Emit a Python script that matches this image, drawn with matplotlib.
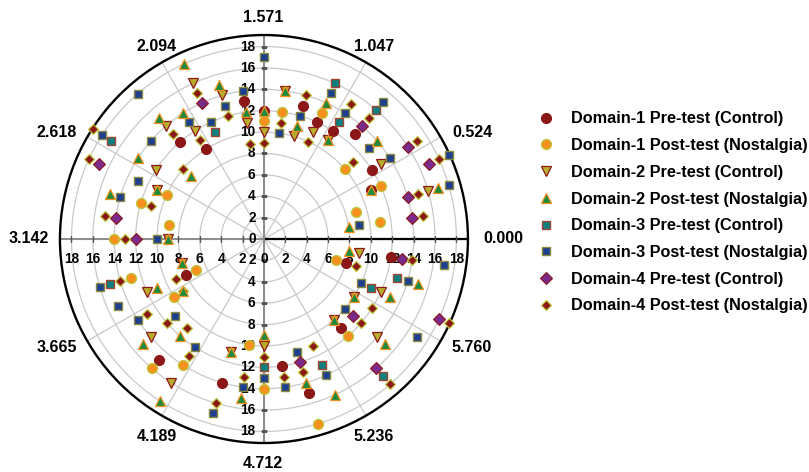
import numpy as np
import matplotlib
matplotlib.use("Agg")
import matplotlib.pyplot as plt
from matplotlib.lines import Line2D

plt.rcParams['font.family'] = ['Liberation Sans', 'DejaVu Sans']

# ---------------- data (angle index k -> theta = k * 2*pi/44, value r) ----------------
N_ANGLES = 44

d1_pre_k = [11, 12, 15, 16, 9, 8, 7, 6, 4, 3, 25, 28, 31, 34, 35, 38, 42, 43]
d1_pre_r = [12, 13, 10, 12, 13, 12, 12, 13, 12, 11, 8, 15, 14, 12, 15, 11, 8, 12]

d1_post_k = [11, 10, 8, 5, 3, 2, 1, 19, 20, 21, 22, 24, 25, 26, 28, 29, 32, 33, 35, 38, 42]
d1_post_r = [11, 12, 13, 10, 12, 9, 11, 10, 12, 9, 14, 13, 7, 10, 16, 14, 10, 14, 18, 12, 7]

d2_pre_k = [11, 12, 13, 14, 15, 16, 18, 19, 22, 10, 9, 8, 7, 4, 2, 24, 25, 27, 29, 31, 33, 38, 39, 40, 41, 43]
d2_pre_r = [10, 11, 14, 16, 12, 14, 12, 11, 9, 14, 10, 11, 11, 13, 16, 8, 12, 14, 16, 11, 10, 10, 14, 10, 12, 9]

d2_post_k = [11, 12, 13, 14, 15, 16, 17, 18, 19, 20, 22, 10, 9, 8, 7, 5, 3, 2, 1,
             24, 25, 26, 27, 28, 29, 31, 32, 33, 35, 36, 38, 39, 40, 41, 42, 43]
d2_post_r = [12, 12, 15, 18, 14, 15, 9, 14, 11, 15, 9, 14, 11, 14, 11, 14, 11, 17, 8,
             8, 11, 9, 15, 12, 18, 11, 15, 9, 14, 16, 10, 15, 10, 13, 15, 8]

d3_pre_k = [14, 18, 8, 7, 6, 24, 33, 36, 38, 41, 42]
d3_pre_r = [11, 17, 16, 13, 16, 15, 12, 13, 17, 11, 13]

d3_post_k = [11, 12, 13, 14, 15, 16, 17, 18, 19, 20, 22, 10, 9, 8, 7, 6, 5, 4, 3, 2, 1,
             24, 25, 26, 27, 29, 31, 32, 33, 34, 35, 36, 39, 40, 41, 42, 43]
d3_post_r = [17, 14, 13, 12, 13, 18, 14, 18, 13, 14, 10, 10, 12, 15, 14, 17, 13, 14, 19, 18, 9,
             16, 15, 14, 11, 12, 17, 14, 13, 14, 11, 14, 10, 17, 10, 14, 17]

d4_pre_k = [14, 19, 21, 22, 6, 4, 3, 2, 1, 35, 38, 39, 41, 43]
d4_pre_r = [14, 17, 14, 12, 14, 16, 17, 14, 14, 12, 16, 11, 18, 13]

d4_post_k = [11, 12, 13, 14, 15, 16, 17, 18, 19, 20, 21, 22, 10, 9, 8, 7, 6, 5, 4, 3, 2, 1,
             24, 25, 26, 26, 27, 28, 29, 31, 32, 33, 34, 35, 36, 38, 39, 40, 41, 42, 43]
d4_post_r = [9, 9, 12, 15, 11, 13, 10, 19, 18, 11, 15, 13, 11, 14, 10, 15, 15, 11, 17, 18, 15, 15,
             14, 9, 9, 13, 12, 11, 13, 16, 13, 11, 13, 13, 11, 18, 12, 12, 19, 9, 14]

series_labels = [
    "Domain-1 Pre-test (Control)",
    "Domain-1 Post-test (Nostalgia)",
    "Domain-2 Pre-test (Control)",
    "Domain-2 Post-test (Nostalgia)",
    "Domain-3 Pre-test (Control)",
    "Domain-3 Post-test (Nostalgia)",
    "Domain-4 Pre-test (Control)",
    "Domain-4 Post-test (Nostalgia)",
]

angle_tick_labels = ["0.000", "0.524", "1.047", "1.571", "2.094", "2.618",
                     "3.142", "3.665", "4.189", "4.712", "5.236", "5.760"]
radial_ticks = [0, 2, 4, 6, 8, 10, 12, 14, 16, 18]

# ---------------- styles ----------------
DRED = "#8B1717"
ORANGE = "#F7901E"
YGREEN = "#BCC63C"
OLIVE_Y = "#B8AE2C"
GREEN = "#1E8A3C"
TEAL = "#0E7F80"
BROWN = "#A0452E"
NAVY = "#1E3F8C"
OLIVE = "#8A8A40"
PURPLE = "#7A2B8A"

styles = [
    dict(marker="o", ms=7.2, mfc=DRED, mec=DRED, mew=0.8),
    dict(marker="o", ms=7.2, mfc=ORANGE, mec=YGREEN, mew=0.9),
    dict(marker="v", ms=7.8, mfc=OLIVE_Y, mec=DRED, mew=0.9),
    dict(marker="^", ms=7.8, mfc=GREEN, mec=ORANGE, mew=0.9),
    dict(marker="s", ms=6.4, mfc=TEAL, mec=BROWN, mew=1.0),
    dict(marker="s", ms=6.4, mfc=NAVY, mec=OLIVE, mew=1.0),
    dict(marker="D", ms=5.8, mfc=PURPLE, mec=DRED, mew=0.8),
    dict(marker="D", ms=5.0, mfc=DRED, mec=YGREEN, mew=0.9),
]
zorders = [5, 5, 5, 8, 5, 5, 5, 6]

series = [
    (d1_pre_k, d1_pre_r), (d1_post_k, d1_post_r),
    (d2_pre_k, d2_pre_r), (d2_post_k, d2_post_r),
    (d3_pre_k, d3_pre_r), (d3_post_k, d3_post_r),
    (d4_pre_k, d4_pre_r), (d4_post_k, d4_post_r),
]

RMAX = 19.08

fig = plt.figure(figsize=(8.09, 4.72), dpi=100)
ax = fig.add_axes([0.0741, 0.0614, 0.5043, 0.8644], projection="polar")
ax.set_rlim(0, RMAX)

# grids
ax.set_rticks(radial_ticks[1:])
ax.set_yticklabels([])
ax.set_thetagrids(np.arange(0, 360, 30), [""] * 12)
ax.grid(True, color="#c9c9c9", lw=0.9)
ax.tick_params(axis="x", length=5, width=1.2, direction="out", colors="black")
ax.spines["polar"].set_linewidth(1.7)
ax.spines["polar"].set_color("black")

# angular labels (placed in axes fraction, around the outer circle)
label_pos = [(1.088, 0.502), (1.010, 0.762), (0.770, 0.971), (0.498, 1.044),
             (0.238, 0.971), (-0.007, 0.762), (-0.076, 0.502), (-0.007, 0.235),
             (0.238, 0.017), (0.498, -0.049), (0.770, 0.017), (1.010, 0.235)]
for (fx, fy), txt in zip(label_pos, angle_tick_labels):
    ax.text(fx, fy, txt, transform=ax.transAxes, ha="center", va="center",
            fontsize=11.5, fontweight="bold", clip_on=False)

# main radial axes
for ang, col, lw in [(0, "black", 1.6), (90, "#8c8c8c", 1.4), (180, "#8c8c8c", 1.4), (270, "#8c8c8c", 1.4)]:
    ax.plot([np.deg2rad(ang)] * 2, [0, RMAX], color=col, lw=lw, zorder=2)

# radial tick marks and labels on the four axes
rt = np.array(radial_ticks[1:])
for ang in (90, 270):
    ax.plot(np.full(rt.shape, np.deg2rad(ang)), rt, ls="none", marker="_",
            ms=5, mew=1.0, color="#555555", zorder=2)
for ang in (0, 180):
    ax.plot(np.full(rt.shape, np.deg2rad(ang)), rt, ls="none", marker="|",
            ms=5, mew=1.0, color="#555555", zorder=2)

lab_kw = dict(textcoords="offset points", fontsize=9.8, fontweight="bold", zorder=3)
for v in radial_ticks:
    ax.annotate(str(v), xy=(np.pi / 2, v), xytext=(-6, 0), ha="right", va="center", **lab_kw)
    if v > 0:
        ax.annotate(str(v), xy=(3 * np.pi / 2, v), xytext=(-6, 0), ha="right", va="center", **lab_kw)
        ax.annotate(str(v), xy=(np.pi, v), xytext=(0, -9), ha="center", va="top", **lab_kw)
    ax.annotate(str(v), xy=(0, v), xytext=(0, -9), ha="center", va="top", **lab_kw)

# data
for (ks, rs), st, z in zip(series, styles, zorders):
    theta = np.array(ks) * 2 * np.pi / N_ANGLES
    ax.plot(theta, rs, ls="none", zorder=z, clip_on=False, **st)

# legend
handles = [Line2D([], [], ls="none", **st) for st in styles]
fig.legend(handles, series_labels, loc="upper left", bbox_to_anchor=(0.651, 0.788),
           frameon=False, prop=dict(weight="bold", size=11.7), labelspacing=0.72,
           handlelength=1.0, handletextpad=1.0, borderpad=0.2)

fig.savefig("out.png", dpi=100)
